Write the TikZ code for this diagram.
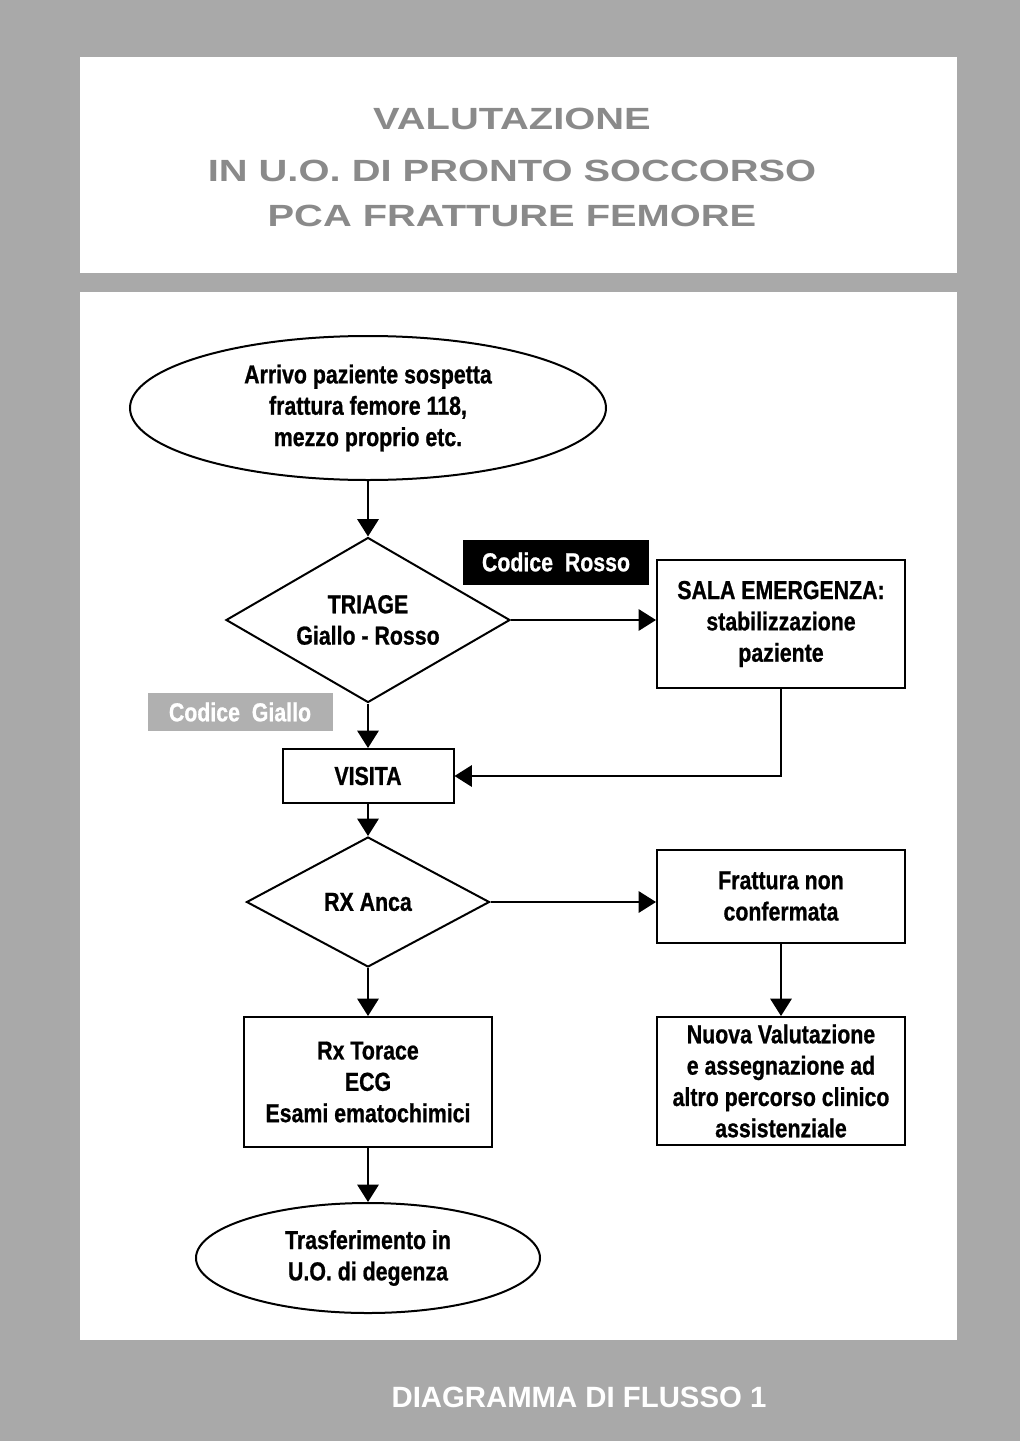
\documentclass[tikz,border=0pt]{standalone}
\usepackage{fontspec}
\usetikzlibrary{shapes.geometric,arrows.meta}
\setmainfont{Liberation Sans}
\newfontfamily\boxfont[FakeStretch=0.82, FakeBold=0.8]{Liberation Sans Bold}
\newfontfamily\titlefont[FakeStretch=1.3]{Liberation Sans Bold}
\newfontfamily\captionfont{Liberation Sans Bold}
\definecolor{panelgray}{HTML}{A9A9A9}
\definecolor{titlegray}{HTML}{8A8A8A}
\definecolor{tagshade}{HTML}{B0B0B0}
\tikzset{
  every node/.style={font=\boxfont\fontsize{19.5pt}{23.5pt}\selectfont, align=center, inner sep=0pt},
  shapeline/.style={draw=black, line width=1.5pt, fill=white},
  procbox/.style={shapeline, rectangle},
  terminal/.style={shapeline, ellipse},
  decision/.style={shapeline, diamond},
  flow/.style={line width=1.5pt, -{Triangle[length=13pt,width=16pt]}},
  paneltitle/.style={font=\titlefont\fontsize{23pt}{26pt}\selectfont, text=titlegray},
}
\begin{document}
\begin{tikzpicture}[x=0.75pt, y=-0.75pt]
  \useasboundingbox (0,0) rectangle (1020,1441);
  % page background and the two white panels
  \fill[panelgray] (0,0) rectangle (1020,1441);
  \fill[white] (80,57) rectangle (957,273);
  \fill[white] (80,292) rectangle (957,1340);

  % heading
  \node[paneltitle] (t1) at (512,119) {VALUTAZIONE};
  \node[paneltitle] (t2) at (512,171) {IN U.O. DI PRONTO SOCCORSO};
  \node[paneltitle] (t3) at (512,216) {PCA FRATTURE FEMORE};

  % flow chart
  \node[terminal, minimum width=357pt, minimum height=108pt] (start) at (368,408)
    {Arrivo paziente sospetta\\frattura femore 118,\\mezzo proprio etc.};
  \node[decision, aspect=1.72, minimum width=213pt, minimum height=123.75pt] (triage) at (368,620)
    {TRIAGE\\Giallo - Rosso};
  \node[rectangle, fill=black, text=white, minimum width=139.5pt, minimum height=33.75pt] (rosso) at (556,562)
    {Codice\ \ Rosso};
  \node[procbox, minimum width=186pt, minimum height=96pt] (sala) at (781,624)
    {SALA EMERGENZA:\\stabilizzazione\\paziente};
  \node[rectangle, fill=tagshade, text=white, minimum width=138.75pt, minimum height=28.5pt] (giallo) at (240,712)
    {Codice\ \ Giallo};
  \node[procbox, minimum width=128.25pt, minimum height=40.5pt] (visita) at (368,776)
    {VISITA};
  \node[decision, aspect=1.87, minimum width=182.25pt, minimum height=97.5pt] (rx) at (368,902)
    {RX Anca};
  \node[procbox, minimum width=186pt, minimum height=69.75pt] (nonconf) at (781,896)
    {Frattura non\\confermata};
  \node[procbox, minimum width=186pt, minimum height=96pt] (nuova) at (781,1081)
    {Nuova Valutazione\\e assegnazione ad\\altro percorso clinico\\assistenziale};
  \node[procbox, minimum width=186pt, minimum height=97.5pt] (esami) at (368,1082)
    {Rx Torace\\ECG\\Esami ematochimici};
  \node[terminal, minimum width=258pt, minimum height=82.5pt] (fine) at (368,1258)
    {Trasferimento in\\U.O. di degenza};

  % connectors
  \draw[flow] (start.south) -- (triage.north);
  \draw[flow] (triage.east) -- (triage.east -| sala.west);
  \draw[flow] (triage.south) -- (visita.north);
  \draw[flow] (sala.south) |- (visita.east);
  \draw[flow] (visita.south) -- (rx.north);
  \draw[flow] (rx.east) -- (rx.east -| nonconf.west);
  \draw[flow] (nonconf.south) -- (nuova.north);
  \draw[flow] (rx.south) -- (esami.north);
  \draw[flow] (esami.south) -- (fine.north);

  % caption
  \node[font=\captionfont\fontsize{22pt}{26pt}\selectfont, text=white] (caption) at (579,1397)
    {DIAGRAMMA DI FLUSSO 1};
\end{tikzpicture}
\end{document}
